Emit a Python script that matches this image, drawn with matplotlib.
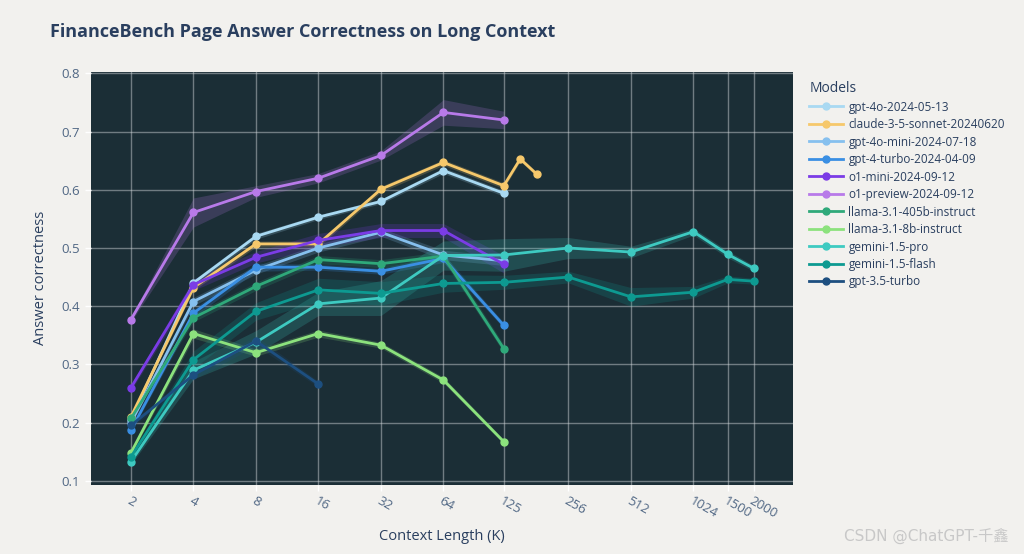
import numpy as np
import matplotlib
matplotlib.use('Agg')
import matplotlib.pyplot as plt
from matplotlib.ticker import FixedLocator, NullLocator

plt.rcParams['font.family'] = ['Open Sans', 'DejaVu Sans']

# context lengths (K)
ctx_short = [2, 4, 8, 16, 32, 64, 125]
ctx_claude = [2, 4, 8, 16, 32, 64, 125, 150, 180]
ctx_gemini = [2, 4, 8, 16, 32, 64, 125, 256, 512, 1024, 1500, 2000]
ctx_gpt35 = [2, 4, 8, 16]

x_ticks = [2, 4, 8, 16, 32, 64, 125, 256, 512, 1024, 1500, 2000]

# answer correctness
gpt4o = [0.205, 0.44, 0.52, 0.553, 0.58, 0.633, 0.594]
claude = [0.21, 0.432, 0.507, 0.507, 0.601, 0.647, 0.607, 0.653, 0.627]
gpt4o_mini = [0.2, 0.408, 0.462, 0.50, 0.527, 0.488, 0.478]
gpt4_turbo = [0.187, 0.388, 0.467, 0.467, 0.46, 0.482, 0.367]
o1_mini = [0.26, 0.437, 0.484, 0.513, 0.53, 0.53, 0.472]
o1_preview = [0.377, 0.561, 0.597, 0.62, 0.659, 0.733, 0.72]
llama405 = [0.207, 0.38, 0.434, 0.48, 0.473, 0.486, 0.327]
llama8 = [0.148, 0.353, 0.32, 0.353, 0.333, 0.273, 0.167]
gemini_pro = [0.133, 0.29, 0.338, 0.404, 0.414, 0.487, 0.488, 0.50, 0.493,
              0.528, 0.489, 0.465]
gemini_flash = [0.141, 0.308, 0.391, 0.428, 0.422, 0.439, 0.441, 0.45, 0.416,
                0.424, 0.446, 0.443]
gpt35 = [0.195, 0.282, 0.34, 0.266]

# half-width of the shaded bands (estimated)
gpt4o_err = [0.004, 0.005, 0.005, 0.004, 0.004, 0.005, 0.005]
claude_err = [0.004, 0.005, 0.005, 0.005, 0.005, 0.005, 0.005, 0.004, 0.004]
gpt4o_mini_err = [0.004, 0.007, 0.007, 0.007, 0.007, 0.008, 0.008]
gpt4_turbo_err = [0.004, 0.007, 0.007, 0.005, 0.005, 0.007, 0.005]
o1_mini_err = [0.005, 0.01, 0.01, 0.012, 0.012, 0.012, 0.015]
o1_preview_err = [0.004, 0.025, 0.01, 0.008, 0.008, 0.022, 0.015]
llama405_err = [0.004, 0.007, 0.007, 0.007, 0.007, 0.008, 0.007]
llama8_err = [0.004, 0.008, 0.006, 0.006, 0.005, 0.005, 0.004]
gemini_pro_err = [0.005, 0.015, 0.02, 0.02, 0.03, 0.025, 0.028, 0.018, 0.01,
                  0.006, 0.006, 0.005]
gemini_flash_err = [0.005, 0.015, 0.015, 0.02, 0.02, 0.015, 0.012, 0.01,
                    0.016, 0.01, 0.006, 0.005]
gpt35_err = [0.004, 0.008, 0.008, 0.005]

series = [
    ('gpt-4o-2024-05-13', ctx_short, gpt4o, gpt4o_err, '#a9d9f2'),
    ('claude-3-5-sonnet-20240620', ctx_claude, claude, claude_err, '#f6c86b'),
    ('gpt-4o-mini-2024-07-18', ctx_short, gpt4o_mini, gpt4o_mini_err, '#86c0ee'),
    ('gpt-4-turbo-2024-04-09', ctx_short, gpt4_turbo, gpt4_turbo_err, '#3a8fe3'),
    ('o1-mini-2024-09-12', ctx_short, o1_mini, o1_mini_err, '#7b3ce6'),
    ('o1-preview-2024-09-12', ctx_short, o1_preview, o1_preview_err, '#b87ae9'),
    ('llama-3.1-405b-instruct', ctx_short, llama405, llama405_err, '#2fa97a'),
    ('llama-3.1-8b-instruct', ctx_short, llama8, llama8_err, '#8ce27d'),
    ('gemini-1.5-pro', ctx_gemini, gemini_pro, gemini_pro_err, '#3ecac1'),
    ('gemini-1.5-flash', ctx_gemini, gemini_flash, gemini_flash_err, '#0d9a91'),
    ('gpt-3.5-turbo', ctx_gpt35, gpt35, gpt35_err, '#1d4f80'),
]

text_col = '#2a3f5f'
tick_col = '#506784'

fig = plt.figure(figsize=(10.24, 5.54), dpi=100)
fig.patch.set_facecolor('#f2f1ee')
ax = fig.add_axes([0.0886, 0.1245, 0.6858, 0.7461])
ax.set_facecolor('#1b2e36')

for name, xs, ys, err, col in series:
    ys = np.array(ys)
    err = np.array(err)
    ax.fill_between(xs, ys - err, ys + err, color=col, alpha=0.2, lw=0)
    ax.plot(xs, ys, color=col, lw=2, marker='o', ms=5, label=name)

ax.set_xscale('log', base=2)
ax.set_xlim(1.28, 3090)
ax.set_ylim(0.0926, 0.803)
ax.xaxis.set_major_locator(FixedLocator(x_ticks))
ax.xaxis.set_minor_locator(NullLocator())
ax.set_xticklabels([str(t) for t in x_ticks], rotation=-30, ha='left',
                   rotation_mode='anchor')
ax.set_yticks([0.1, 0.2, 0.3, 0.4, 0.5, 0.6, 0.7, 0.8])
ax.set_yticklabels(['0.1', '0.2', '0.3', '0.4', '0.5', '0.6', '0.7', '0.8'])
ax.grid(True, color='#d8dde0', alpha=0.45, lw=1)
ax.set_axisbelow(True)
ax.tick_params(axis='both', colors='#ffffff', length=4, width=1,
               labelcolor=tick_col, labelsize=9.5)
ax.tick_params(axis='x', pad=3)
for s in ax.spines.values():
    s.set_visible(False)

ax.set_xlabel('Context Length (K)', color=text_col, fontsize=10.5, labelpad=6)
ax.set_ylabel('Answer correctness', color=text_col, fontsize=10.5, labelpad=10)

fig.text(0.049, 0.942, 'FinanceBench Page Answer Correctness on Long Context',
         color=text_col, fontsize=13, fontweight='bold', va='center')

leg = ax.legend(loc='upper left', bbox_to_anchor=(1.01, 1.0), frameon=False,
                title='Models', fontsize=8.5, title_fontsize=10,
                handlelength=2.8, handletextpad=0.5, labelspacing=0.38,
                borderaxespad=0.4, alignment='left')
for t in leg.get_texts():
    t.set_color(text_col)
leg.get_title().set_color(text_col)

fig.text(0.985, 0.03, 'CSDN @ChatGPT-千鑫', ha='right', va='center',
         fontsize=11, color='#c8c8c8',
         family=['DejaVu Sans', 'Noto Sans CJK SC'])

fig.savefig('out.png', dpi=100, facecolor=fig.get_facecolor())
